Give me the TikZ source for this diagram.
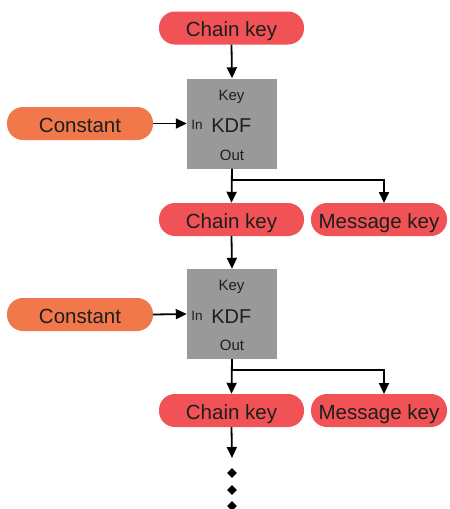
\documentclass[tikz,border=0pt]{standalone}
\usepackage{fontspec}
\setmainfont{Liberation Sans}
\usetikzlibrary{arrows.meta,shapes.geometric}
\definecolor{keyred}{HTML}{F05255}
\definecolor{constorange}{HTML}{F0784B}
\definecolor{kdfgray}{HTML}{999999}
\definecolor{ink}{HTML}{1E1E1E}
\tikzset{
  pill/.style={rectangle, rounded corners=16pt, fill=#1, draw=none, text=ink,
    minimum height=33pt, inner sep=0pt, text height=17.5pt, text depth=0pt,
    font=\fontsize{20.5}{21}\selectfont},
  chainpill/.style={pill=keyred, minimum width=145pt},
  msgpill/.style={pill=keyred, minimum width=136pt},
  constpill/.style={pill=constorange, minimum width=146pt},
  kdfbox/.style={rectangle, fill=kdfgray, draw=none, minimum width=90pt,
    minimum height=90pt, inner sep=0pt},
  boxtext/.style={anchor=base, inner sep=0pt, text=ink},
  kdflabel/.style={boxtext, font=\fontsize{20}{20}\selectfont},
  portlabel/.style={boxtext, font=\fontsize{15}{15}\selectfont},
  inlabel/.style={boxtext, font=\fontsize{13.5}{14}\selectfont},
  flow/.style={line width=1.8pt, -{Triangle[length=11pt,width=10pt]}},
  dotmark/.style={diamond, fill=black, inner sep=0pt, minimum width=10pt, minimum height=10pt},
}
\begin{document}
\begin{tikzpicture}[x=1pt,y=-1pt]
\useasboundingbox (0,0) rectangle (450,509);

% first ratchet step
\node[chainpill] (ck1) at (231.5,28) {Chain key};
\node[kdfbox] (kdf1) at (232,123.5) {};
\node[kdflabel] (kdft1) at (231.3,132.5) {KDF};
\node[portlabel] (key1) at (231.5,100) {Key};
\node[portlabel] (out1) at (232,160) {Out};
\node[inlabel] (in1) at (197,129.5) {In};
\node[constpill] (c1) at (80,123.5) {Constant};
\node[chainpill] (ck2) at (231.5,219.5) {Chain key};
\node[msgpill] (mk2) at (379,219.5) {Message key};
\coordinate (br1) at (232,180);

\draw[flow] (ck1.south) -- (kdf1.north);
\draw[flow] (c1.east) -- (kdf1.west);
\draw[flow] (kdf1.south) -- (ck2.north);
\draw[flow] (br1) -| (384,203) coordinate (mk2top);

% second ratchet step
\node[kdfbox] (kdf2) at (232,314) {};
\node[kdflabel] (kdft2) at (231.3,323) {KDF};
\node[portlabel] (key2) at (231.5,290.5) {Key};
\node[portlabel] (out2) at (232,350.5) {Out};
\node[inlabel] (in2) at (197,320) {In};
\node[constpill] (c2) at (80,314.5) {Constant};
\node[chainpill] (ck3) at (231.5,410.5) {Chain key};
\node[msgpill] (mk3) at (379,410.5) {Message key};
\coordinate (br2) at (232,370);

\draw[flow] (ck2.south) -- (kdf2.north);
\draw[flow] (c2.east) -- (kdf2.west);
\draw[flow] (kdf2.south) -- (ck3.north);
\draw[flow] (br2) -| (384,394) coordinate (mk3top);

% continuation
\coordinate (cont) at (232,458);
\draw[flow] (ck3.south) -- (cont);
\node[dotmark] (d1) at (232,473) {};
\node[dotmark] (d2) at (232,490) {};
\node[dotmark] (d3) at (232,506) {};
\end{tikzpicture}
\end{document}
